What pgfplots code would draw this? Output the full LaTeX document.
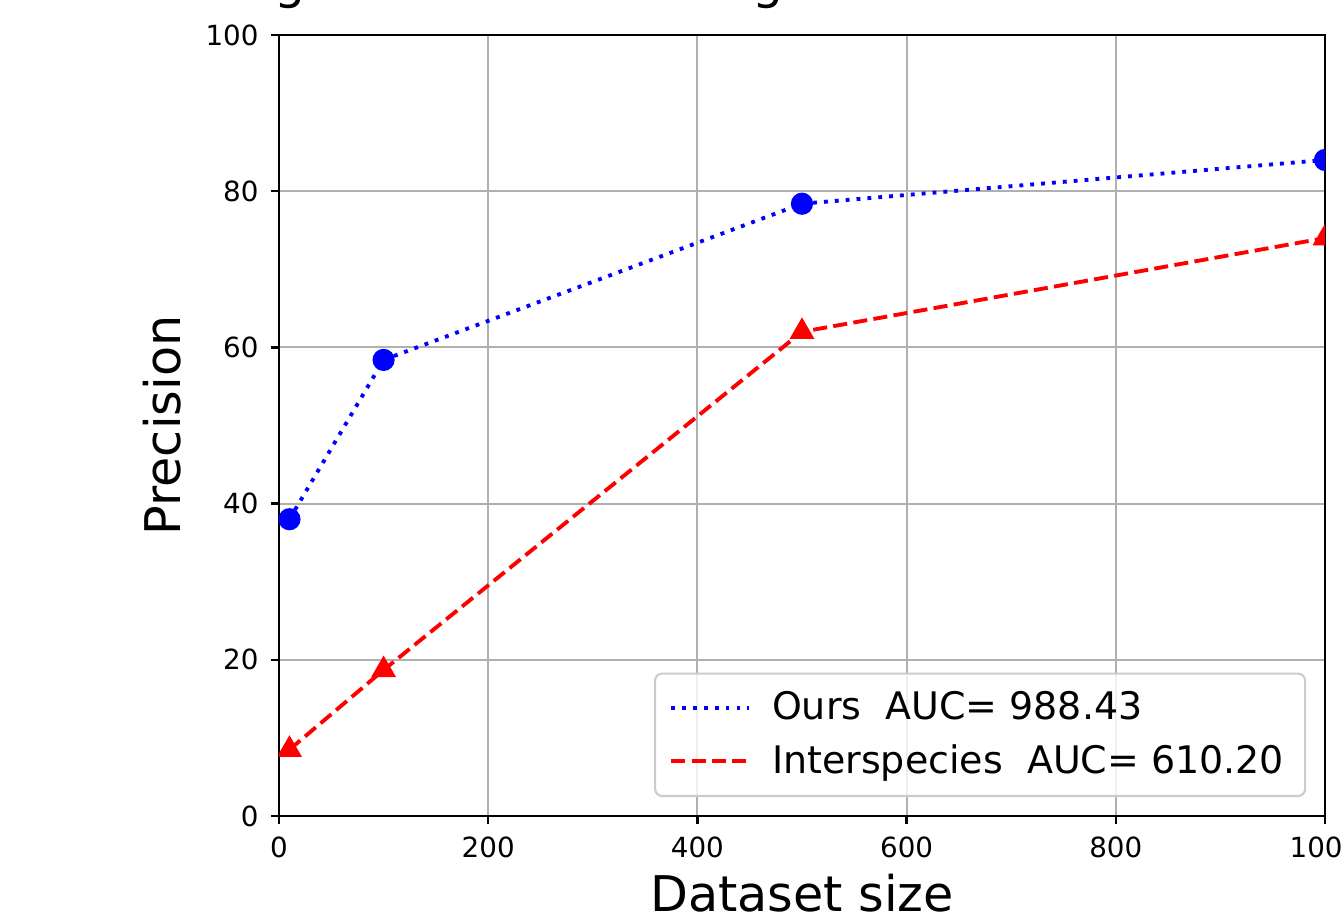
\documentclass[border=0pt]{standalone}
\usepackage{fontspec}
\setmainfont{DejaVu Sans}
\usepackage{pgfplots}
\pgfplotsset{compat=1.18}

\definecolor{gridgray}{HTML}{B0B0B0}
\definecolor{legframe}{HTML}{CCCCCC}

\begin{document}
\begin{tikzpicture}
% the reference is a crop of a larger figure: keep the same window
\path[use as bounding box, clip] (0,0) rectangle (13.41cm,9.20cm);

% title of the figure, only its descenders are inside the crop
\node[anchor=base west, inner sep=0pt, font=\fontsize{14}{16}\selectfont]
  at (0.91cm,9.215cm) {Learning Curves on Ranking Data};

\begin{axis}[
    at={(2.79cm,1.04cm)}, anchor=south west,
    scale only axis,
    width=10.46cm, height=7.81cm,
    xmin=0, xmax=1000,
    ymin=0, ymax=100,
    xtick={0,200,...,1000},
    ytick={0,20,...,100},
    tick pos=left,
    tick align=outside,
    major tick length=0.08cm,
    tick style={black, line width=0.7pt},
    axis line style={black, line width=0.75pt},
    grid=major,
    major grid style={gridgray, line width=0.55pt},
    ticklabel style={font=\fontsize{7.9}{9}\selectfont},
    /pgf/number format/assume math mode=true,
    /pgf/number format/1000 sep={},
    xlabel={Dataset size},
    ylabel={Precision},
    every axis x label/.style={at={(axis description cs:0.5,-0.099)}, anchor=center,
        font=\fontsize{14}{16}\selectfont},
    every axis y label/.style={at={(axis description cs:-0.112,0.5)}, anchor=center, rotate=90,
        font=\fontsize{14}{16}\selectfont},
    clip marker paths=true,
    legend cell align=left,
    legend image code/.code={\draw[#1] (0cm,0cm) -- (0.78cm,0cm); \path (0.92cm,0cm);},
    legend style={
        at={(axis description cs:0.982,0.0243)}, anchor=south east,
        draw=legframe, rounded corners=2pt, line width=0.6pt,
        fill=white, fill opacity=0.8, text opacity=1,
        font=\fontsize{10.8}{13}\selectfont,
        inner xsep=4pt, inner ysep=3pt,
        row sep=1.6pt,
    },
]
\addplot[blue, line width=1.1pt, dash pattern=on 1.1pt off 2pt,
         mark=*, mark size=2.6pt, mark options={solid}]
  coordinates {(10,38.0) (100,58.4) (500,78.4) (1000,84.0)};
\addlegendentry{Ours\ \ AUC= 988.43}

\addplot[red, line width=1.1pt, dash pattern=on 4pt off 1.8pt,
         mark=triangle*, mark size=3pt, mark options={solid}]
  coordinates {(10,8.5) (100,18.7) (500,62.0) (1000,74.0)};
\addlegendentry{Interspecies\ \ AUC= 610.20}
\end{axis}
\end{tikzpicture}
\end{document}
